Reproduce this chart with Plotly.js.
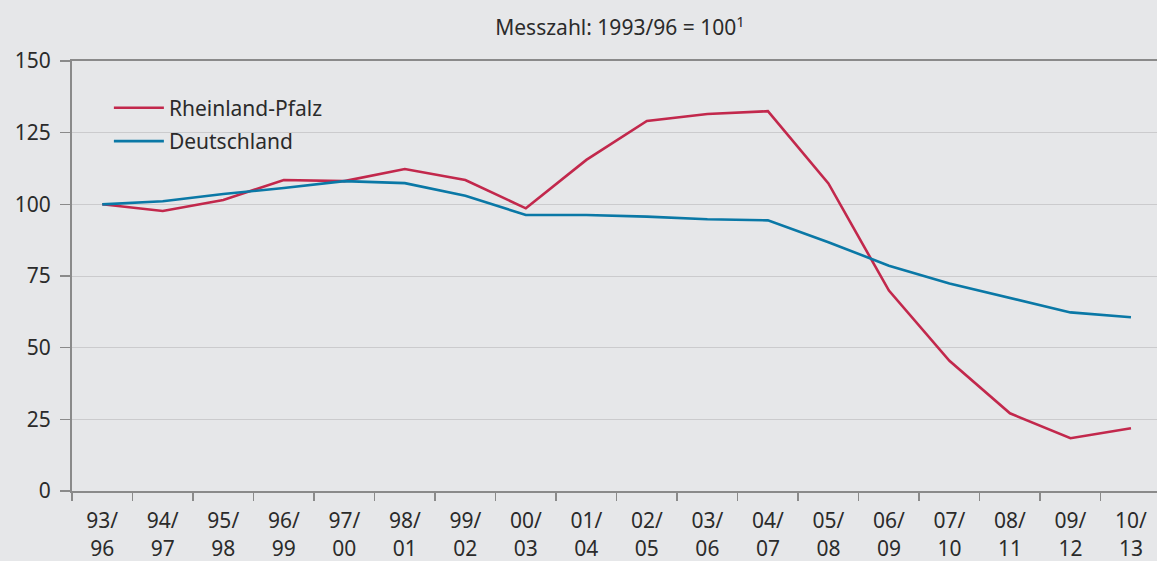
<!DOCTYPE html>
<html>
<head>
<meta charset="utf-8">
<script src="https://cdn.plot.ly/plotly-3.0.1.min.js"></script>
<style>
html,body{margin:0;padding:0;background:#e6e7e9;}
#chart{width:1157px;height:561px;}
</style>
</head>
<body>
<div id="chart"></div>
<script>
const categories = ["93/<br>96","94/<br>97","95/<br>98","96/<br>99","97/<br>00","98/<br>01","99/<br>02","00/<br>03","01/<br>04","02/<br>05","03/<br>06","04/<br>07","05/<br>08","06/<br>09","07/<br>10","08/<br>11","09/<br>12","10/<br>13"];
const rheinlandPfalz = [100, 97.7, 101.5, 108.5, 108.1, 112.3, 108.5, 98.6, 115.5, 129.1, 131.5, 132.5, 107.3, 69.9, 45.4, 27.1, 18.4, 21.9];
const deutschland = [100, 101.1, 103.6, 105.7, 108.1, 107.4, 103.0, 96.3, 96.3, 95.7, 94.8, 94.4, 86.8, 78.6, 72.4, 67.4, 62.3, 60.6];
const seriesNames = ["Rheinland-Pfalz", "Deutschland"];
const yTicks = [0, 25, 50, 75, 100, 125, 150];
const titleText = "Messzahl: 1993/96 = 100<sup>1</sup>";

const font = "Noto Sans, Open Sans, sans-serif";
const traces = [
  {x: categories, y: rheinlandPfalz, name: seriesNames[0], type: "scatter", mode: "lines",
   line: {color: "#c2284c", width: 2.6}, legendgroup: "a"},
  {x: categories, y: deutschland, name: seriesNames[1], type: "scatter", mode: "lines",
   line: {color: "#0a78a6", width: 2.6}, legendgroup: "b"}
];
const layout = {
  width: 1157, height: 561,
  paper_bgcolor: "#e6e7e9", plot_bgcolor: "#e6e7e9",
  margin: {l: 72, r: 0, t: 61, b: 70},
  font: {family: font, size: 21, color: "#2b2b2b"},
  title: {text: titleText, x: 0.505, xref: "paper", y: 0.95, yref: "container", yanchor: "middle",
          font: {family: font, size: 21, color: "#2b2b2b"}},
  xaxis: {type: "category", range: [-0.5, 17.43], showgrid: false, showline: true, linecolor: "#8a8a8a",
          linewidth: 2, mirror: true, ticks: "outside", tickson: "boundaries", ticklen: 8, tickcolor: "#8a8a8a",
          tickwidth: 1.5, tickfont: {size: 21}, zeroline: false, fixedrange: true, ticklabelstandoff: 10},
  yaxis: {range: [0, 150], tickvals: yTicks, ticktext: yTicks.map(String), showgrid: true, gridcolor: "#cbcbcd",
          gridwidth: 1, showline: true, linecolor: "#8a8a8a", linewidth: 2, ticks: "outside", ticklen: 10,
          tickcolor: "#8a8a8a", tickwidth: 1.5, zeroline: false, ticklabelstandoff: 5, tickfont: {size: 21}},
  showlegend: true,
  legend: {x: 0.034, y: 0.938, xanchor: "left", yanchor: "top", bgcolor: "rgba(0,0,0,0)",
           font: {size: 21, color: "#2b2b2b"}, traceorder: "grouped", tracegroupgap: 3, itemwidth: 50}
};
Plotly.newPlot("chart", traces, layout, {staticPlot: true, displayModeBar: false});
</script>
</body>
</html>
